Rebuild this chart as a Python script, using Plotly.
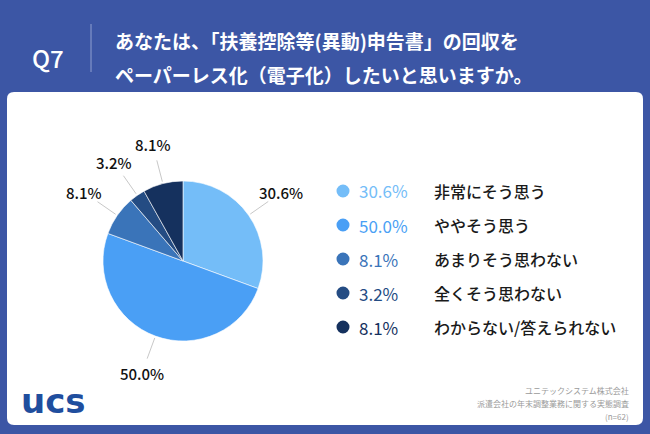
import math
import plotly.graph_objects as go

# ---- data ----
categories = ["非常にそう思う", "ややそう思う", "あまりそう思わない", "全くそう思わない", "わからない/答えられない"]
values = [30.6, 50.0, 8.1, 3.2, 8.1]
colors = ["#74bdf8", "#4a9ff5", "#3a74b9", "#244c83", "#15315e"]
pct_labels = [f"{v:.1f}%" for v in values]

title_q = "Q7"
title_lines = ["あなたは、「扶養控除等(異動)申告書」の回収を", "ペーパーレス化（電子化）したいと思いますか。"]
footer_lines = ["ユニテックシステム株式会社", "派遣会社の年末調整業務に関する実態調査", "(n=62)"]

# ---- geometry (pixels) ----
W, H = 650, 434
BLUE = "#3c56a5"
FONT = "Noto Sans CJK JP"
cx, cy, R = 183, 261, 80


def px(x):
    return x / W


def py(y):
    return 1 - y / H


def ann(text, x, y, size, color, xanchor="center", family=FONT, weight=None):
    f = dict(family=family, size=size, color=color)
    if weight:
        f["weight"] = weight
    return dict(text=text, x=px(x), y=py(y), xref="paper", yref="paper",
                xanchor=xanchor, yanchor="middle", showarrow=False, font=f)


fig = go.Figure()

fig.add_trace(go.Pie(
    values=values, labels=categories, sort=False, direction="clockwise", rotation=0,
    marker=dict(colors=colors, line=dict(color="white", width=0.6)),
    textinfo="none", hoverinfo="skip", showlegend=False,
    domain=dict(x=[px(cx - R), px(cx + R)], y=[py(cy + R), py(cy - R)]),
))

shapes = []
annotations = []

# white panel with rounded corners
x0, y0, x1, y1, r = 7, 92, 643, 425, 7
path = (f"M {px(x0 + r)} {py(y0)} L {px(x1 - r)} {py(y0)} Q {px(x1)} {py(y0)} {px(x1)} {py(y0 + r)} "
        f"L {px(x1)} {py(y1 - r)} Q {px(x1)} {py(y1)} {px(x1 - r)} {py(y1)} "
        f"L {px(x0 + r)} {py(y1)} Q {px(x0)} {py(y1)} {px(x0)} {py(y1 - r)} "
        f"L {px(x0)} {py(y0 + r)} Q {px(x0)} {py(y0)} {px(x0 + r)} {py(y0)} Z")
shapes.append(dict(type="path", path=path, xref="paper", yref="paper",
                   fillcolor="white", line=dict(width=0), layer="below"))

# header
shapes.append(dict(type="line", xref="paper", yref="paper", x0=px(91), x1=px(91), y0=py(24), y1=py(72),
                   line=dict(color="#8f9fd0", width=1)))
annotations.append(ann(title_q, 48, 57, 24, "white", weight=500))
for i, t in enumerate(title_lines):
    annotations.append(ann(f"<b>{t}</b>", 113, 40 + 35 * i, 19, "white", xanchor="left"))

# pie labels with leader lines
total = sum(values)
cum = 0
for v, lab in zip(values, pct_labels):
    mid = (cum + v / 2) / total
    cum += v
    th = 2 * math.pi * mid
    dx, dy = math.sin(th), -math.cos(th)
    shapes.append(dict(type="line", xref="paper", yref="paper",
                       x0=px(cx + dx * (R + 2)), y0=py(cy + dy * (R + 2)),
                       x1=px(cx + dx * (R + 24)), y1=py(cy + dy * (R + 24)),
                       line=dict(color="#c8c8c8", width=1)))
    annotations.append(ann(lab, cx + dx * (R + 40), cy + dy * (R + 40), 15, "#111111", weight=500))

# custom legend
for i, (cat, lab, col) in enumerate(zip(categories, pct_labels, colors)):
    yy = 191 + 34 * i
    shapes.append(dict(type="circle", xref="paper", yref="paper",
                       x0=px(336.5), x1=px(349.5), y0=py(yy + 6.5), y1=py(yy - 6.5),
                       fillcolor=col, line=dict(width=0)))
    annotations.append(ann(lab, 357, yy, 17, col, xanchor="left"))
    annotations.append(ann(cat, 432, yy, 16, "#1a1a1a", xanchor="left", weight=500))

# footer
for i, t in enumerate(footer_lines):
    annotations.append(ann(t, 631, 390 + 13 * i, 8, "#9a9a9a", xanchor="right"))
annotations.append(ann("<b>ucs</b>", 19, 401, 34, "#1f4e9e", xanchor="left", family="DejaVu Sans"))

fig.update_layout(
    width=W, height=H, margin=dict(l=0, r=0, t=0, b=0),
    paper_bgcolor=BLUE, plot_bgcolor=BLUE,
    shapes=shapes, annotations=annotations,
    xaxis=dict(visible=False), yaxis=dict(visible=False),
)

fig.write_html("out.html", config={"displayModeBar": False},
               post_script="document.body.style.margin='0';document.body.style.overflow='hidden';")
